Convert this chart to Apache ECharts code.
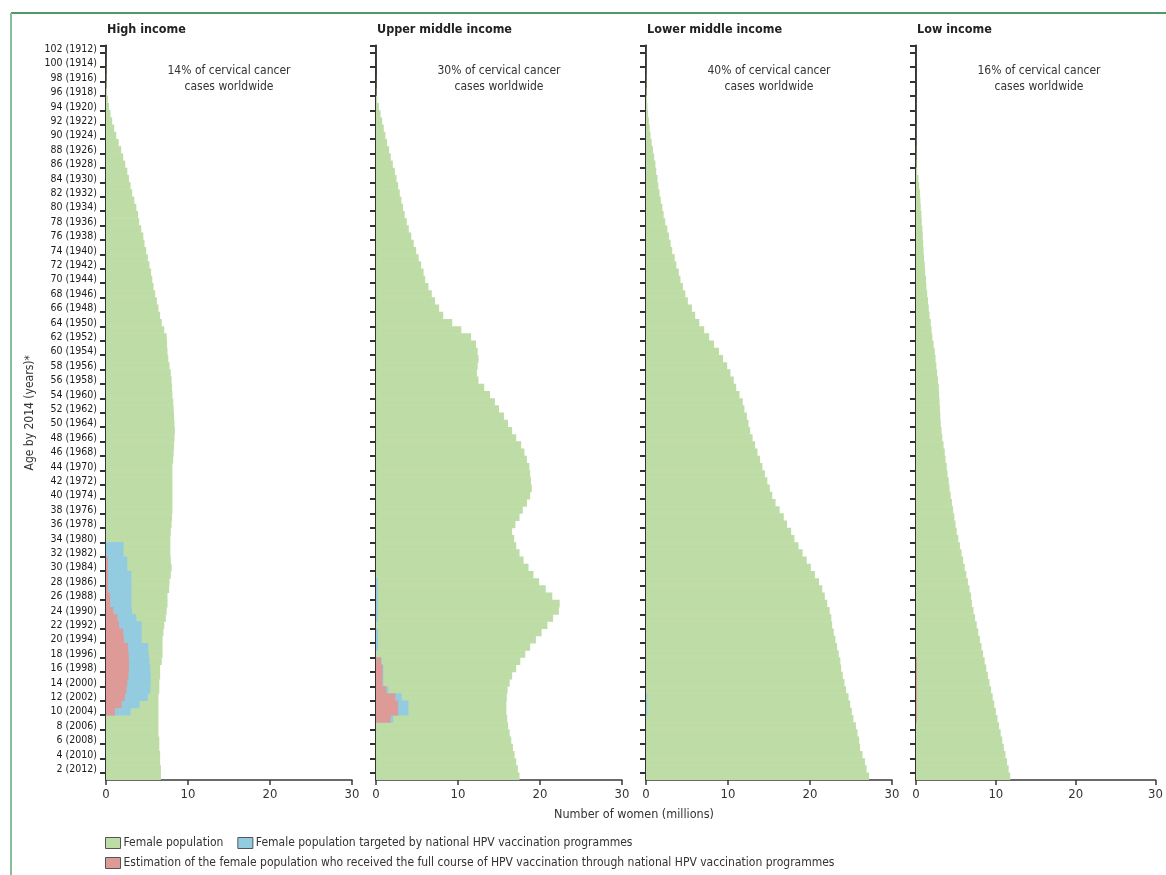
<!DOCTYPE html>
<html><head><meta charset="utf-8">
<script src="https://cdn.jsdelivr.net/npm/echarts@6/dist/echarts.min.js"></script>
<style>html,body{margin:0;padding:0;background:#fff}#c{width:1166px;height:875px}</style>
</head><body><div id="c"></div>
<script>
// ---- data ----
const ages = [1,2,3,4,5,6,7,8,9,10,11,12,13,14,15,16,17,18,19,20,21,22,23,24,25,26,27,28,29,30,
  31,32,33,34,35,36,37,38,39,40,41,42,43,44,45,46,47,48,49,50,51,52,53,54,55,56,57,58,59,60,
  61,62,63,64,65,66,67,68,69,70,71,72,73,74,75,76,77,78,79,80,81,82,83,84,85,86,87,88,89,90,
  91,92,93,94,95,96,97,98,99,100,101,102];
const panelTitles = ['High income', 'Upper middle income', 'Lower middle income', 'Low income'];
const casesShare = ['14%', '30%', '40%', '16%'];
const seriesNames = ['Female population',
  'Female population targeted by national HPV vaccination programmes',
  'Estimation of the female population who received the full course of HPV vaccination through national HPV vaccination programmes'];

// female population (millions) by age 1..102
const highGreen = [6.7,6.7,6.6,6.6,6.5,6.5,6.4,6.4,6.4,6.4,
  6.4,6.4,6.5,6.5,6.6,6.6,6.8,6.9,6.9,6.9,
  7.0,7.1,7.3,7.4,7.5,7.5,7.7,7.75,7.9,8.0,
  7.9,7.85,7.85,7.85,7.9,8.0,8.05,8.1,8.1,8.1,
  8.1,8.1,8.1,8.1,8.2,8.25,8.3,8.35,8.4,8.35,
  8.3,8.25,8.2,8.1,8.05,8.0,7.9,7.75,7.6,7.5,
  7.45,7.4,7.1,6.8,6.6,6.4,6.2,6.0,5.8,5.65,
  5.5,5.3,5.1,4.9,4.7,4.55,4.3,4.05,3.9,3.7,
  3.45,3.2,3.0,2.8,2.6,2.35,2.1,1.85,1.55,1.25,
  1.0,0.75,0.55,0.37,0.22,0.12,0.08,0.05,0.04,0.03,
  0.02,0.01];
const upperGreen = [17.5,17.3,17.1,16.9,16.7,16.5,16.3,16.1,16.0,15.9,
  15.9,15.95,16.05,16.3,16.6,17.1,17.6,18.2,18.8,19.5,
  20.2,20.9,21.6,22.3,22.4,21.5,20.7,19.9,19.2,18.6,
  18.0,17.5,17.1,16.85,16.6,17.0,17.5,17.9,18.4,18.8,
  19.0,18.9,18.8,18.7,18.4,18.1,17.7,17.1,16.6,16.1,
  15.6,15.0,14.5,13.9,13.2,12.5,12.3,12.4,12.5,12.4,
  12.2,11.6,10.4,9.3,8.2,7.7,7.2,6.8,6.4,6.0,
  5.8,5.5,5.2,4.9,4.6,4.3,4.0,3.75,3.5,3.3,
  3.1,2.9,2.7,2.5,2.3,2.05,1.8,1.6,1.35,1.15,
  0.95,0.75,0.55,0.35,0.15,0.05,0.03,0.02,0.01,0.01,
  0.01,0.01];
const lowerGreen = [27.2,26.9,26.7,26.4,26.1,26.0,25.8,25.6,25.3,25.1,
  24.9,24.7,24.4,24.2,24.0,23.8,23.7,23.5,23.3,23.1,
  22.9,22.7,22.6,22.4,22.1,21.8,21.5,21.1,20.6,20.1,
  19.6,19.1,18.6,18.1,17.7,17.2,16.8,16.3,15.8,15.4,
  15.1,14.8,14.5,14.2,13.9,13.6,13.3,13.0,12.7,12.5,
  12.3,12.0,11.8,11.4,11.0,10.7,10.3,9.9,9.4,8.9,
  8.3,7.7,7.1,6.5,6.0,5.6,5.1,4.8,4.5,4.2,
  4.0,3.7,3.5,3.2,3.0,2.8,2.6,2.35,2.15,2.0,
  1.8,1.65,1.5,1.4,1.25,1.15,1.0,0.85,0.7,0.55,
  0.45,0.35,0.25,0.18,0.12,0.08,0.05,0.04,0.03,0.02,
  0.02,0.02];
const lowGreen = [11.8,11.6,11.4,11.2,11.0,10.8,10.6,10.4,10.2,10.0,
  9.8,9.6,9.4,9.2,9.0,8.8,8.6,8.4,8.2,8.0,
  7.8,7.6,7.4,7.2,7.0,6.9,6.7,6.5,6.3,6.1,
  5.9,5.7,5.5,5.3,5.1,4.95,4.8,4.65,4.5,4.35,
  4.2,4.1,3.95,3.85,3.7,3.6,3.45,3.3,3.2,3.1,
  3.05,3.0,2.95,2.9,2.85,2.75,2.65,2.55,2.45,2.35,
  2.2,2.05,1.95,1.85,1.7,1.6,1.5,1.4,1.3,1.25,
  1.15,1.1,1.0,0.95,0.9,0.85,0.8,0.72,0.68,0.6,
  0.55,0.5,0.4,0.3,0.15,0.08,0.06,0.05,0.04,0.03,
  0.03,0.02,0.02,0.02,0.02,0.01,0.01,0.01,0.01,0.01,
  0.01,0.01];

// [age, millions] for targeted (blue) and fully vaccinated (red)
const highBlue = [[10,3.0],[11,4.1],[12,5.1],[13,5.4],[14,5.45],[15,5.45],[16,5.4],[17,5.3],[18,5.2],[19,5.15],
  [20,4.35],[21,4.35],[22,4.35],[23,3.7],[24,3.15],[25,3.1],[26,3.1],[27,3.1],[28,3.1],[29,3.1],
  [30,2.6],[31,2.6],[32,2.15],[33,2.15]];
const highRed = [[10,1.1],[11,1.9],[12,2.3],[13,2.5],[14,2.6],[15,2.75],[16,2.8],[17,2.8],[18,2.75],[19,2.7],
  [20,2.2],[21,2.1],[22,1.6],[23,1.4],[24,0.9],[25,0.5],[26,0.5],[27,0.25],[28,0.25],[29,0.25],[30,0.25],[31,0.25]];
const upperBlue = [[9,2.1],[10,3.95],[11,3.95],[12,3.15],[13,1.5],[14,0.9],[15,0.9],[16,0.9],[17,0.7],
  [19,0.25],[20,0.25],[21,0.25],[23,0.2],[24,0.2],[25,0.2],[26,0.2],[27,0.2],[28,0.2]];
const upperRed = [[9,1.8],[10,2.7],[11,2.7],[12,2.35],[13,1.25],[14,0.8],[15,0.8],[16,0.8],[17,0.6]];
const lowerBlue = [[10,0.15],[11,0.15],[12,0.15]];
const lowerRed = [];
const lowBlue = [];
const lowRed = [[9,0.12],[10,0.12],[11,0.12],[12,0.12],[13,0.12],[14,0.12],[15,0.12],[16,0.12],[17,0.12]];

// ---- build ----
const FF = "'Liberation Sans Narrow','DejaVu Sans Condensed','Liberation Sans',sans-serif";
const COLORS = ['#bedca6', '#93cce0', '#de9a97'];
const toFull = pairs => ages.map(a => { const p = pairs.find(q => q[0] === a); return p ? p[1] : 0; });
const panels = [
  [highGreen, toFull(highBlue), toFull(highRed)],
  [upperGreen, toFull(upperBlue), toFull(upperRed)],
  [lowerGreen, toFull(lowerBlue), toFull(lowerRed)],
  [lowGreen, toFull(lowBlue), toFull(lowRed)]
];
const lefts = [106, 376, 646, 916];
const W = 246, TOP = 45.6, H = 734.4;

const grid = [], xAxis = [], yAxis = [], series = [], graphic = [];
panels.forEach((p, i) => {
  grid.push({left: lefts[i], top: TOP, width: W, height: H, containLabel: false});
  xAxis.push({
    type: 'value', gridIndex: i, min: 0, max: 30, interval: 10,
    splitLine: {show: false},
    axisLine: {show: true, lineStyle: {color: '#3a3a3a', width: 1.5}},
    axisTick: {show: true, length: 5, lineStyle: {color: '#3a3a3a', width: 1.5}},
    axisLabel: {fontFamily: FF, fontSize: 13, color: '#333', margin: 8}
  });
  yAxis.push({
    type: 'category', gridIndex: i, data: ages, boundaryGap: true,
    name: i === 0 ? 'Age by 2014 (years)*' : '',
    nameLocation: 'middle', nameGap: 70, nameRotate: 90,
    nameTextStyle: {fontFamily: FF, fontSize: 12, color: '#333'},
    axisLine: {show: true, lineStyle: {color: '#333', width: 2}},
    axisTick: {show: true, length: 6, interval: (idx) => idx % 2 === 1, lineStyle: {color: '#333', width: 2}},
    axisLabel: {
      show: i === 0, interval: (idx) => idx % 2 === 1, fontFamily: FF, fontSize: 10.5, color: '#1a1a1a', margin: 9,
      formatter: v => v + ' (' + (2014 - Number(v)) + ')'
    }
  });
  p.forEach((d, k) => {
    series.push({
      type: 'bar', name: seriesNames[k], xAxisIndex: i, yAxisIndex: i, data: d,
      barGap: '-100%', barCategoryGap: 0, barWidth: 7.7,
      itemStyle: {color: COLORS[k]}, silent: true
    });
  });
  graphic.push({type: 'text', x: lefts[i] + 1, y: 23, style: {text: panelTitles[i], font: 'bold 12.5px ' + FF, fill: '#222'}});
  graphic.push({type: 'text', x: lefts[i] + 15 * W / 30, y: 63,
    style: {text: casesShare[i] + ' of cervical cancer\ncases worldwide', font: '12px ' + FF, fill: '#333', align: 'center', lineHeight: 16}});
});
graphic.push({type: 'text', x: 634, y: 808, style: {text: 'Number of women (millions)', font: '12.5px ' + FF, fill: '#333', align: 'center'}});
graphic.push({type: 'line', shape: {x1: 11, y1: 13, x2: 1166, y2: 13}, style: {stroke: '#4f9a66', lineWidth: 2}});
graphic.push({type: 'line', shape: {x1: 11, y1: 13, x2: 11, y2: 875}, style: {stroke: '#86bd9a', lineWidth: 2}});

const legendCommon = {
  left: 100, orient: 'horizontal', icon: 'rect', itemWidth: 15, itemHeight: 11, itemGap: 14,
  itemStyle: {borderColor: '#555', borderWidth: 1},
  textStyle: {fontFamily: FF, fontSize: 12, color: '#333', padding: [0, 0, 0, -2]},
  selectedMode: false
};
const option = {
  animation: false,
  backgroundColor: '#fff',
  grid, xAxis, yAxis, series, graphic,
  legend: [
    Object.assign({}, legendCommon, {top: 832, data: [seriesNames[0], seriesNames[1]]}),
    Object.assign({}, legendCommon, {top: 852, data: [seriesNames[2]]})
  ]
};
const chart = echarts.init(document.getElementById('c'), null, {renderer: 'canvas'});
chart.setOption(option);
</script></body></html>
